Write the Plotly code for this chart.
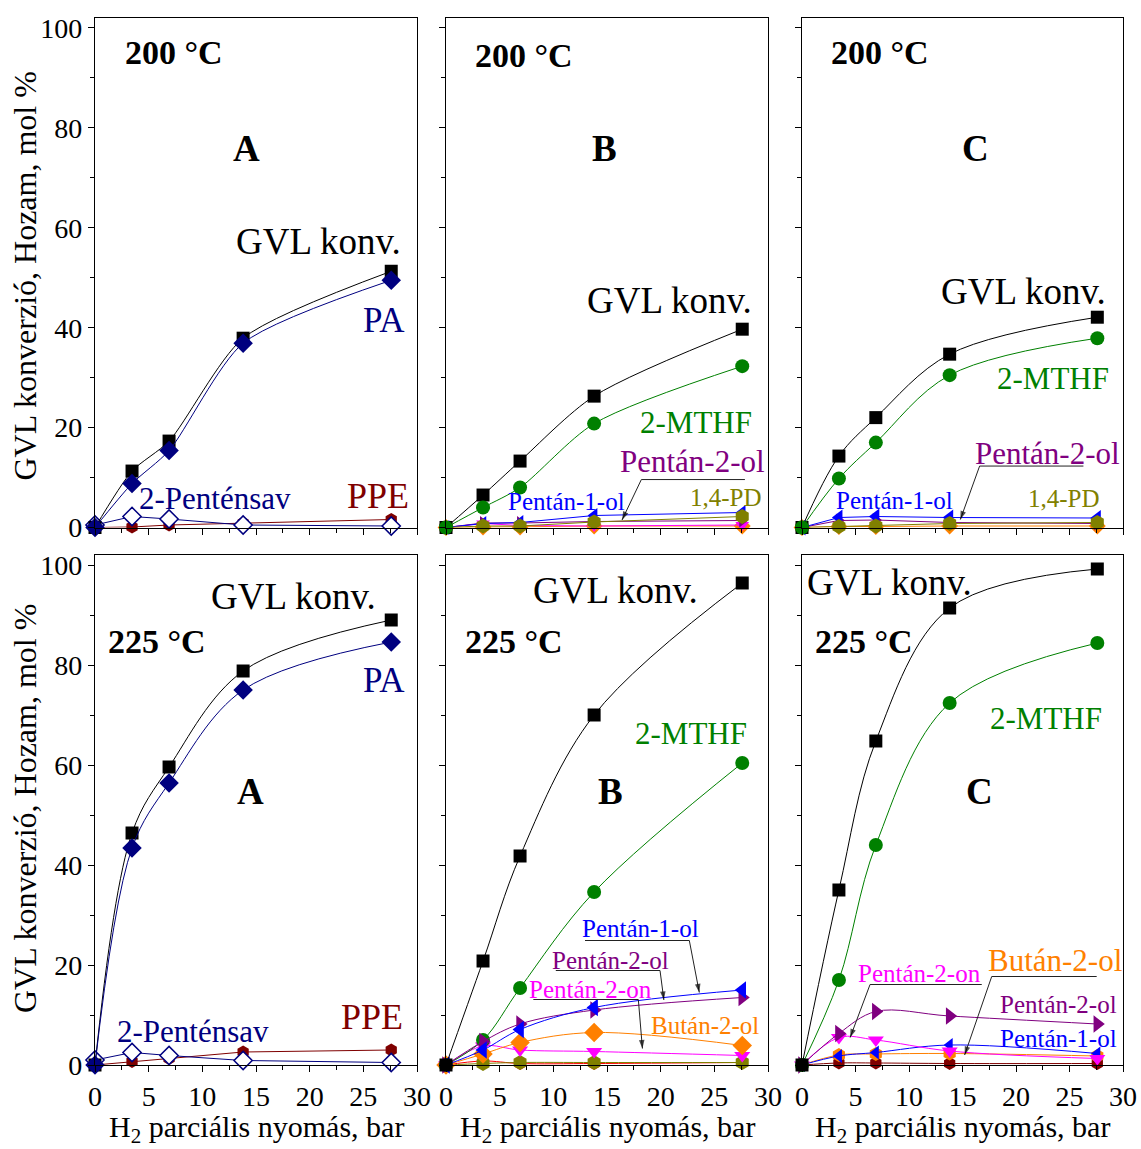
import plotly.graph_objects as go

# H2 partial pressure (bar)
p_h2 = [0, 3.45, 6.9, 13.8, 27.6]

# ---- Catalyst A ----
gvl_a200 = [0, 11.3, 17.3, 37.9, 51.3]
pa_a200 = [0, 8.8, 15.4, 36.9, 49.5]
pentensav_a200 = [0.5, 2.2, 1.7, 0.5, 0.3]
ppe_a200 = [0, 0.1, 0.5, 0.9, 1.6]

gvl_a225 = [0, 46.4, 59.6, 78.8, 89.0]
pa_a225 = [0, 43.4, 56.4, 75.0, 84.6]
pentensav_a225 = [1.0, 2.5, 1.9, 0.9, 0.5]
ppe_a225 = [0, 0.7, 1.3, 2.6, 3.0]

# ---- Catalyst B ----
gvl_b200 = [0, 6.5, 13.3, 26.3, 39.7]
mthf_b200 = [0, 4.0, 8.0, 20.8, 32.3]
p1ol_b200 = [0, 0.8, 1.0, 2.4, 3.0]
p2ol_b200 = [0, 0.9, 0.9, 1.2, 1.4]
p2on_b200 = [0, 0.8, 0.4, 0.3, 0.5]
but2ol_b200 = [0, 0.1, 0.1, 0.3, 0.3]
pd14_b200 = [0, 0.3, 0.3, 1.1, 2.2]

gvl_b225 = [0, 20.8, 41.8, 70.0, 96.4]
mthf_b225 = [0, 5.0, 15.4, 34.6, 60.4]
p1ol_b225 = [0, 3.0, 7.1, 11.5, 15.0]
p2ol_b225 = [0, 4.7, 8.2, 11.0, 13.5]
p2on_b225 = [0, 3.8, 3.0, 2.7, 1.9]
but2ol_b225 = [0, 2.2, 4.5, 6.5, 3.9]
other_b225 = [0, 0.8, 0.3, 0.3, 0.5]
pd14_b225 = [0, 0.3, 0.5, 0.5, 0.5]

# ---- Catalyst C ----
gvl_c200 = [0, 14.3, 22.0, 34.7, 42.1]
mthf_c200 = [0, 9.8, 17.0, 30.5, 37.9]
p1ol_c200 = [0, 2.0, 2.2, 2.0, 1.9]
p2ol_c200 = [0, 1.4, 1.5, 1.0, 0.8]
but2ol_c200 = [0, 0.2, 0.2, 0.3, 0.3]
pd14_c200 = [0, 0.2, 0.3, 0.8, 1.0]

gvl_c225 = [0, 35.0, 64.8, 91.4, 99.2]
mthf_c225 = [0, 17.0, 44.0, 72.4, 84.4]
p2ol_c225 = [0, 6.3, 10.7, 9.8, 8.2]
p2on_c225 = [0, 5.5, 5.0, 2.8, 1.3]
p1ol_c225 = [0, 1.8, 2.5, 4.0, 2.3]
but2ol_c225 = [0, 2.0, 2.2, 2.3, 1.8]
ppe_c225 = [0, 0.4, 0.4, 0.3, 0.3]

FONT = "Liberation Serif"
W, H = 1141, 1149

BLACK = "#000000"
NAVY = "#00007f"
DARKRED = "#7f0000"
GREEN = "#008000"
BLUE = "#0000ff"
PURPLE = "#800080"
MAGENTA = "#ff00ff"
ORANGE = "#ff8000"
OLIVE = "#808000"
RED = "#ff0000"

# panel frames in pixels: columns (left, right), rows (top, bottom)
cols_px = [(95, 417), (446, 768), (802, 1123)]
rows_px = [(18, 527.5), (555, 1065)]

fig = go.Figure()


def axid(i):
    return "" if i == 0 else str(i + 1)


def add(i, y, color, symbol, size=13, open_marker=False, smooth=1.0, width=1.0):
    a = axid(i)
    fig.add_trace(go.Scatter(
        x=p_h2, y=y, mode="lines+markers",
        xaxis="x" + a, yaxis="y" + a,
        line=dict(color=color, width=width,
                  shape="spline" if smooth else "linear",
                  smoothing=smooth if smooth else 0),
        marker=dict(symbol=symbol, size=size,
                    color="white" if open_marker else color,
                    line=dict(color=color, width=1.5 if open_marker else 0)),
        cliponaxis=False, showlegend=False, hoverinfo="x+y"))


# panel 0: A, 200 °C
add(0, ppe_a200, DARKRED, "hexagon", 13, smooth=0)
add(0, pentensav_a200, NAVY, "diamond", 14, open_marker=True, smooth=0)
add(0, gvl_a200, BLACK, "square", 13, smooth=0.7)
add(0, pa_a200, NAVY, "diamond", 15, smooth=0.7)

# panel 1: B, 200 °C
add(1, but2ol_b200, ORANGE, "diamond", 13, smooth=0)
add(1, p2on_b200, MAGENTA, "triangle-down", 12, smooth=0)
add(1, p2ol_b200, PURPLE, "triangle-right", 12, smooth=0)
add(1, p1ol_b200, BLUE, "triangle-left", 13, smooth=0)
add(1, pd14_b200, OLIVE, "hexagon", 15, smooth=0)
add(1, gvl_b200, BLACK, "square", 13, smooth=0.8)
add(1, mthf_b200, GREEN, "circle", 14, smooth=0.8)

# panel 2: C, 200 °C
add(2, but2ol_c200, ORANGE, "diamond", 13, smooth=0)
add(2, p2ol_c200, PURPLE, "triangle-right", 12, smooth=0)
add(2, p1ol_c200, BLUE, "triangle-left", 14, smooth=0)
add(2, pd14_c200, OLIVE, "hexagon", 15, smooth=0)
add(2, gvl_c200, BLACK, "square", 13)
add(2, mthf_c200, GREEN, "circle", 14)

# panel 3: A, 225 °C
add(3, ppe_a225, DARKRED, "hexagon", 13, smooth=0)
add(3, pentensav_a225, NAVY, "diamond", 14, open_marker=True, smooth=0)
add(3, gvl_a225, BLACK, "square", 13)
add(3, pa_a225, NAVY, "diamond", 15)

# panel 4: B, 225 °C
add(4, other_b225, RED, "hexagon", 13)
add(4, pd14_b225, OLIVE, "hexagon", 15)
add(4, p2on_b225, MAGENTA, "triangle-down", 14)
add(4, but2ol_b225, ORANGE, "diamond", 15)
add(4, mthf_b225, GREEN, "circle", 14)
add(4, p2ol_b225, PURPLE, "triangle-right", 15)
add(4, p1ol_b225, BLUE, "triangle-left", 15)
add(4, gvl_b225, BLACK, "square", 13)

# panel 5: C, 225 °C
add(5, ppe_c225, DARKRED, "hexagon", 13)
add(5, but2ol_c225, ORANGE, "hexagon", 14)
add(5, p1ol_c225, BLUE, "triangle-left", 12)
add(5, p2on_c225, MAGENTA, "triangle-down", 14)
add(5, p2ol_c225, PURPLE, "triangle-right", 15)
add(5, mthf_c225, GREEN, "circle", 14)
add(5, gvl_c225, BLACK, "square", 13)

layout = dict(
    width=W, height=H,
    margin=dict(l=0, r=0, t=0, b=0, autoexpand=False),
    paper_bgcolor="white", plot_bgcolor="white",
    font=dict(family=FONT, color="black"),
    showlegend=False,
)

for i in range(6):
    r, c = divmod(i, 3)
    x0, x1 = cols_px[c]
    top, bot = rows_px[r]
    a = axid(i)
    common = dict(showline=True, mirror=True, linecolor="black", linewidth=1.3,
                  ticks="outside", ticklen=6, tickwidth=1.2, tickcolor="black",
                  showgrid=False, zeroline=False, automargin=False,
                  tickfont=dict(family=FONT, size=28, color="black"))
    layout["xaxis" + a] = dict(
        domain=[x0 / W, x1 / W], range=[0, 30], anchor="y" + a,
        tick0=0, dtick=5, showticklabels=(r == 1),
        minor=dict(ticks="outside", ticklen=4, dtick=2.5, tickcolor="black"),
        **common)
    layout["yaxis" + a] = dict(
        domain=[1 - bot / H, 1 - top / H], range=[0, 102], anchor="x" + a,
        tick0=0, dtick=20, showticklabels=(c == 0),
        minor=dict(ticks="outside", ticklen=4, dtick=10, tickcolor="black"),
        **common)

fig.update_layout(**layout)

annotations = []


def label(i, x, y, text, color=BLACK, size=25, bold=False):
    a = axid(i)
    annotations.append(dict(
        x=x, y=y, xref="x" + a, yref="y" + a, showarrow=False,
        text=f"<b>{text}</b>" if bold else text,
        font=dict(family=FONT, size=size, color=color),
        xanchor="center", yanchor="middle"))


def pointer(i, ux0, ux1, uy, hx, hy):
    """Label underline from ux0 to ux1 at uy, with an arrow from its near end to (hx, hy)."""
    a = axid(i)
    if hx > ux1 - 3:
        xs, ys = [ux0, ux1, hx], [uy, uy, hy]
    else:
        xs, ys = [ux1, ux0, hx], [uy, uy, hy]
    fig.add_trace(go.Scatter(
        x=xs, y=ys, mode="lines+markers", xaxis="x" + a, yaxis="y" + a,
        line=dict(color="#222222", width=1),
        marker=dict(symbol=["circle", "circle", "arrow"], size=[0, 0, 9],
                    angleref="previous", color="black", line=dict(width=0)),
        cliponaxis=False, showlegend=False, hoverinfo="skip"))


BIG = 37     # "GVL konv."
MID = 31     # product labels
SMALL = 25   # crowded product labels
TEMP = 34    # temperature
LETTER = 37  # catalyst letter

# A, 200 °C
label(0, 7.36, 95.1, "200 °C", size=TEMP, bold=True)
label(0, 14.1, 75.9, "A", size=LETTER, bold=True)
label(0, 20.8, 57.3, "GVL konv.", size=BIG)
label(0, 26.9, 41.5, "PA", NAVY, size=35)
label(0, 11.2, 5.9, "2-Penténsav", NAVY, size=MID)
label(0, 26.4, 6.3, "PPE", DARKRED, size=36)

# B, 200 °C
label(1, 7.27, 94.5, "200 °C", size=TEMP, bold=True)
label(1, 14.8, 75.9, "B", size=LETTER, bold=True)
label(1, 20.8, 45.5, "GVL konv.", size=BIG)
label(1, 23.3, 21.1, "2-MTHF", GREEN, size=MID)
label(1, 23.0, 13.3, "Pentán-2-ol", PURPLE, size=MID)
label(1, 11.2, 5.3, "Pentán-1-ol", BLUE, size=SMALL)
label(1, 26.1, 6.1, "1,4-PD", OLIVE, size=SMALL)
pointer(1, 18.2, 27.85, 9.6, 16.4, 1.5)

# C, 200 °C
label(2, 7.29, 95.1, "200 °C", size=TEMP, bold=True)
label(2, 16.2, 75.9, "C", size=LETTER, bold=True)
label(2, 20.7, 47.3, "GVL konv.", size=BIG)
label(2, 23.5, 29.9, "2-MTHF", GREEN, size=MID)
label(2, 22.9, 14.9, "Pentán-2-ol", PURPLE, size=MID)
label(2, 8.6, 5.5, "Pentán-1-ol", BLUE, size=SMALL)
label(2, 24.5, 5.9, "1,4-PD", OLIVE, size=SMALL)
pointer(2, 16.6, 26.3, 12.3, 14.8, 1.6)

# A, 225 °C
label(3, 18.5, 93.8, "GVL konv.", size=BIG)
label(3, 5.8, 84.8, "225 °C", size=TEMP, bold=True)
label(3, 26.9, 77.0, "PA", NAVY, size=35)
label(3, 14.5, 54.8, "A", size=LETTER, bold=True)
label(3, 9.1, 6.8, "2-Penténsav", NAVY, size=MID)
label(3, 25.8, 9.6, "PPE", DARKRED, size=36)

# B, 225 °C
label(4, 15.8, 95.0, "GVL konv.", size=BIG)
label(4, 6.3, 84.8, "225 °C", size=TEMP, bold=True)
label(4, 22.8, 66.4, "2-MTHF", GREEN, size=MID)
label(4, 15.3, 54.8, "B", size=LETTER, bold=True)
label(4, 18.1, 27.3, "Pentán-1-ol", BLUE, size=SMALL)
label(4, 15.3, 20.9, "Pentán-2-ol", PURPLE, size=SMALL)
label(4, 13.5, 15.1, "Pentán-2-on", MAGENTA, size=SMALL)
label(4, 24.1, 8.0, "Bután-2-ol", ORANGE, size=SMALL)
pointer(4, 12.95, 22.67, 24.9, 23.6, 14.5)
pointer(4, 10.23, 19.94, 18.9, 20.3, 13.0)
pointer(4, 8.14, 17.92, 13.1, 18.3, 3.3)

# C, 225 °C
label(5, 8.2, 96.6, "GVL konv.", size=BIG)
label(5, 5.8, 84.8, "225 °C", size=TEMP, bold=True)
label(5, 22.8, 69.4, "2-MTHF", GREEN, size=MID)
label(5, 16.6, 54.8, "C", size=LETTER, bold=True)
label(5, 11.0, 18.3, "Pentán-2-on", MAGENTA, size=SMALL)
label(5, 23.6, 20.9, "Bután-2-ol", ORANGE, size=MID)
label(5, 24.0, 12.2, "Pentán-2-ol", PURPLE, size=SMALL)
label(5, 23.95, 5.3, "Pentán-1-ol", BLUE, size=SMALL)
pointer(5, 6.36, 16.8, 16.1, 4.5, 5.5)
pointer(5, 17.73, 27.54, 17.7, 15.2, 2.0)

# axis titles
ytitle = "GVL konverzió, Hozam, mol %"
for cy in (276.5, 809):
    annotations.append(dict(
        x=25 / W, y=1 - cy / H, xref="paper", yref="paper", showarrow=False,
        text=ytitle, textangle=-90, xanchor="center", yanchor="middle",
        font=dict(family=FONT, size=32, color="black")))

xtitle = "H<sub>2</sub> parciális nyomás, bar"
for (x0, x1) in cols_px:
    annotations.append(dict(
        x=(x0 + x1) / 2 / W, y=1 - 1129 / H, xref="paper", yref="paper",
        showarrow=False, text=xtitle, xanchor="center", yanchor="middle",
        borderpad=0, font=dict(family=FONT, size=30, color="black")))

fig.update_layout(annotations=annotations)

fig.write_html("out.html")
